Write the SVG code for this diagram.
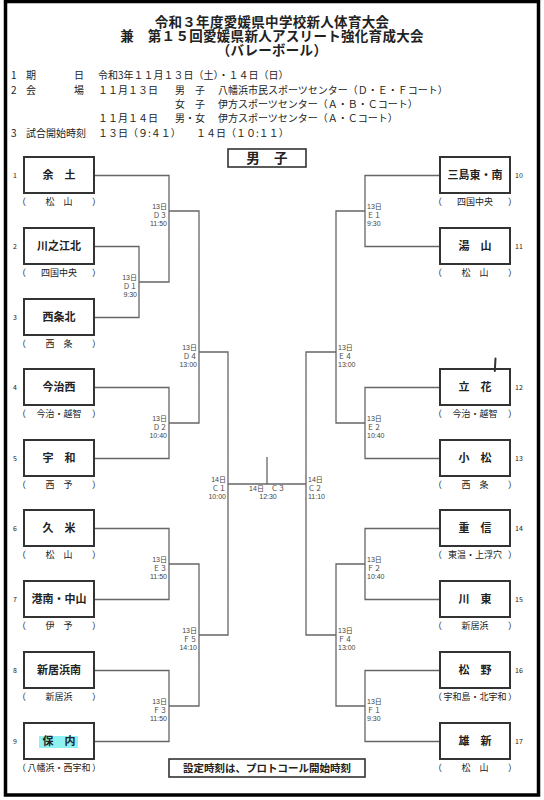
<svg xmlns="http://www.w3.org/2000/svg" width="544" height="800" viewBox="0 0 544 800">
<style>
text{font-family:"Noto Sans CJK JP","Liberation Sans",sans-serif;fill:#222}
.t{font-size:13.5px;font-weight:bold;text-anchor:middle;letter-spacing:0.3px}
.i{font-size:10px}
.box{fill:#fff;stroke:#333;stroke-width:2}
.nm{font-size:11px;font-weight:bold;text-anchor:middle}
.rg{font-size:9px;text-anchor:middle}
.pl{font-size:9px;text-anchor:start}
.pr{font-size:9px;text-anchor:end}
.no{font-size:7px;text-anchor:middle}
.nor{font-size:7px;text-anchor:start}
.lb{font-family:"Liberation Sans","Noto Sans CJK JP",sans-serif;font-size:7px;fill:#444}
.le{text-anchor:end}
.ls{text-anchor:start}
.lm{text-anchor:middle}
.cn{fill:none;stroke:#666;stroke-width:1.3}
</style>
<rect x="0" y="0" width="544" height="800" fill="#fff"/>
<rect x="5.5" y="1.5" width="533" height="793.5" fill="none" stroke="#000" stroke-width="3.5"/>
<g id="title">
<text class="t" x="272" y="26.5">令和３年度愛媛県中学校新人体育大会</text>
<text class="t" x="272" y="40.5">兼　第１５回愛媛県新人アスリート強化育成大会</text>
<text class="t" x="272" y="55">（バレーボール）</text>
</g>
<g id="info">
<text class="i" x="11" y="78.5">1</text><text class="i" x="26" y="78.5">期</text><text class="i" x="74" y="78.5">日</text><text class="i" x="98" y="78.5">令和3年１１月１３日（土）・１４日（日）</text>
<text class="i" x="11" y="93.5">2</text><text class="i" x="26" y="93.5">会</text><text class="i" x="74" y="93.5">場</text><text class="i" x="98" y="93.5">１１月１３日</text><text class="i" x="175" y="93.5">男　子</text><text class="i" x="218" y="93.5">八幡浜市民スポーツセンター（Ｄ・Ｅ・Ｆコート）</text>
<text class="i" x="175" y="107.5">女　子</text><text class="i" x="218" y="107.5">伊方スポーツセンター（Ａ・Ｂ・Ｃコート）</text>
<text class="i" x="98" y="121.5">１１月１４日</text><text class="i" x="175" y="121.5">男・女</text><text class="i" x="218" y="121.5">伊方スポーツセンター（Ａ・Ｃコート）</text>
<text class="i" x="11" y="136.5">3</text><text class="i" x="26" y="136.5">試合開始時刻</text><text class="i" x="98" y="136.5">１３日（９:４１）</text><text class="i" x="196" y="136.5">１４日（１０:１１）</text>
</g>
<g id="division">
<rect x="228" y="149" width="78" height="18" fill="#fff" stroke="#333" stroke-width="1.6"/>
<text class="t" x="267" y="163" style="font-size:13.5px">男　子</text>
</g>
<g id="connectors">
<path class="cn" d="M94 175.5H169V282H139M94 246.5H139V317.5H94M169 211H199V423H169M94 387.5H169V458.5H94M199 352H228V635H199M94 528.5H169V599.5H94M169 564H199V706H169M94 670.5H169V741.5H94M228 484H306M267 457V484"/>
<path class="cn" d="M440 175.5H365V246.5H440M365 211H336V423H365M440 387.5H365V458.5H440M336 352H306V635H336M440 528.5H365V599.5H440M365 564H336V706H365M440 670.5H365V741.5H440"/>
</g>
<g id="match-labels">
<text class="lb le" x="167" y="209">13日</text><text class="lb le" x="167" y="218">Ｄ３</text><text class="lb le" x="167" y="226.2">11:50</text>
<text class="lb le" x="137" y="280">13日</text><text class="lb le" x="137" y="289">Ｄ１</text><text class="lb le" x="137" y="297.2">9:30</text>
<text class="lb le" x="197" y="350">13日</text><text class="lb le" x="197" y="359">Ｄ４</text><text class="lb le" x="197" y="367.2">13:00</text>
<text class="lb le" x="167" y="421">13日</text><text class="lb le" x="167" y="430">Ｄ２</text><text class="lb le" x="167" y="438.2">10:40</text>
<text class="lb le" x="226" y="482">14日</text><text class="lb le" x="226" y="491">Ｃ１</text><text class="lb le" x="226" y="499.2">10:00</text>
<text class="lb le" x="167" y="562">13日</text><text class="lb le" x="167" y="571">Ｅ３</text><text class="lb le" x="167" y="579.2">11:50</text>
<text class="lb le" x="197" y="633">13日</text><text class="lb le" x="197" y="642">Ｆ５</text><text class="lb le" x="197" y="650.2">14:10</text>
<text class="lb le" x="167" y="704">13日</text><text class="lb le" x="167" y="713">Ｆ３</text><text class="lb le" x="167" y="721.2">11:50</text>
<text class="lb ls" x="367" y="209">13日</text><text class="lb ls" x="367" y="218">Ｅ１</text><text class="lb ls" x="367" y="226.2">9:30</text>
<text class="lb ls" x="338" y="350">13日</text><text class="lb ls" x="338" y="359">Ｅ４</text><text class="lb ls" x="338" y="367.2">13:00</text>
<text class="lb ls" x="367" y="421">13日</text><text class="lb ls" x="367" y="430">Ｅ２</text><text class="lb ls" x="367" y="438.2">10:40</text>
<text class="lb ls" x="308" y="482">14日</text><text class="lb ls" x="308" y="491">Ｃ２</text><text class="lb ls" x="308" y="499.2">11:10</text>
<text class="lb ls" x="367" y="562">13日</text><text class="lb ls" x="367" y="571">Ｆ２</text><text class="lb ls" x="367" y="579.2">10:40</text>
<text class="lb ls" x="338" y="633">13日</text><text class="lb ls" x="338" y="642">Ｆ４</text><text class="lb ls" x="338" y="650.2">13:00</text>
<text class="lb ls" x="367" y="704">13日</text><text class="lb ls" x="367" y="713">Ｆ１</text><text class="lb ls" x="367" y="721.2">9:30</text>
<text class="lb lm" x="267" y="491">14日　Ｃ３</text><text class="lb lm" x="268" y="499.2">12:30</text>
</g>
<g id="team1"><text class="no" x="15" y="177.5">1</text><rect class="box" x="24" y="157" width="70" height="36"/><text class="nm" x="59" y="179">余　土</text><text class="pl" x="17" y="205">（</text><text class="rg" x="59" y="205">松　山</text><text class="pr" x="101" y="205">）</text></g>
<g id="team2"><text class="no" x="15" y="248.5">2</text><rect class="box" x="24" y="228" width="70" height="36"/><text class="nm" x="59" y="250">川之江北</text><text class="pl" x="17" y="276">（</text><text class="rg" x="59" y="276">四国中央</text><text class="pr" x="101" y="276">）</text></g>
<g id="team3"><text class="no" x="15" y="319.5">3</text><rect class="box" x="24" y="299" width="70" height="36"/><text class="nm" x="59" y="321">西条北</text><text class="pl" x="17" y="347">（</text><text class="rg" x="59" y="347">西　条</text><text class="pr" x="101" y="347">）</text></g>
<g id="team4"><text class="no" x="15" y="389.5">4</text><rect class="box" x="24" y="369" width="70" height="36"/><text class="nm" x="59" y="391">今治西</text><text class="pl" x="17" y="417">（</text><text class="rg" x="59" y="417">今治・越智</text><text class="pr" x="101" y="417">）</text></g>
<g id="team5"><text class="no" x="15" y="460.5">5</text><rect class="box" x="24" y="440" width="70" height="36"/><text class="nm" x="59" y="462">宇　和</text><text class="pl" x="17" y="488">（</text><text class="rg" x="59" y="488">西　予</text><text class="pr" x="101" y="488">）</text></g>
<g id="team6"><text class="no" x="15" y="530.5">6</text><rect class="box" x="24" y="510" width="70" height="36"/><text class="nm" x="59" y="532">久　米</text><text class="pl" x="17" y="558">（</text><text class="rg" x="59" y="558">松　山</text><text class="pr" x="101" y="558">）</text></g>
<g id="team7"><text class="no" x="15" y="601.5">7</text><rect class="box" x="24" y="581" width="70" height="36"/><text class="nm" x="59" y="603">港南・中山</text><text class="pl" x="17" y="629">（</text><text class="rg" x="59" y="629">伊　予</text><text class="pr" x="101" y="629">）</text></g>
<g id="team8"><text class="no" x="15" y="672.5">8</text><rect class="box" x="24" y="652" width="70" height="36"/><text class="nm" x="59" y="674">新居浜南</text><text class="pl" x="17" y="700">（</text><text class="rg" x="59" y="700">新居浜</text><text class="pr" x="101" y="700">）</text></g>
<g id="team9"><text class="no" x="15" y="743.5">9</text><rect class="box" x="24" y="723" width="70" height="36"/><rect x="39" y="736" width="39" height="12" fill="#8ef3f0"/><text class="nm" x="59" y="745">保　内</text><text class="pl" x="17" y="771">（</text><text class="rg" x="59" y="771">八幡浜・西宇和</text><text class="pr" x="101" y="771">）</text></g>
<g id="team10"><rect class="box" x="440" y="157" width="70" height="36"/><text class="nm" x="475" y="179">三島東・南</text><text class="nor" x="515" y="177.5">10</text><text class="pl" x="433" y="205">（</text><text class="rg" x="475" y="205">四国中央</text><text class="pr" x="517" y="205">）</text></g>
<g id="team11"><rect class="box" x="440" y="228" width="70" height="36"/><text class="nm" x="475" y="250">湯　山</text><text class="nor" x="515" y="248.5">11</text><text class="pl" x="433" y="276">（</text><text class="rg" x="475" y="276">松　山</text><text class="pr" x="517" y="276">）</text></g>
<g id="team12"><rect class="box" x="440" y="369" width="70" height="36"/><text class="nm" x="475" y="391">立　花</text><text class="nor" x="515" y="389.5">12</text><text class="pl" x="433" y="417">（</text><text class="rg" x="475" y="417">今治・越智</text><text class="pr" x="517" y="417">）</text></g>
<g id="team13"><rect class="box" x="440" y="440" width="70" height="36"/><text class="nm" x="475" y="462">小　松</text><text class="nor" x="515" y="460.5">13</text><text class="pl" x="433" y="488">（</text><text class="rg" x="475" y="488">西　条</text><text class="pr" x="517" y="488">）</text></g>
<g id="team14"><rect class="box" x="440" y="510" width="70" height="36"/><text class="nm" x="475" y="532">重　信</text><text class="nor" x="515" y="530.5">14</text><text class="pl" x="433" y="558">（</text><text class="rg" x="475" y="558">東温・上浮穴</text><text class="pr" x="517" y="558">）</text></g>
<g id="team15"><rect class="box" x="440" y="581" width="70" height="36"/><text class="nm" x="475" y="603">川　東</text><text class="nor" x="515" y="601.5">15</text><text class="pl" x="433" y="629">（</text><text class="rg" x="475" y="629">新居浜</text><text class="pr" x="517" y="629">）</text></g>
<g id="team16"><rect class="box" x="440" y="652" width="70" height="36"/><text class="nm" x="475" y="674">松　野</text><text class="nor" x="515" y="672.5">16</text><text class="pl" x="433" y="700">（</text><text class="rg" x="475" y="700">宇和島・北宇和</text><text class="pr" x="517" y="700">）</text></g>
<g id="team17"><rect class="box" x="440" y="723" width="70" height="36"/><text class="nm" x="475" y="745">雄　新</text><text class="nor" x="515" y="743.5">17</text><text class="pl" x="433" y="771">（</text><text class="rg" x="475" y="771">松　山</text><text class="pr" x="517" y="771">）</text></g>
<g id="note">
<rect x="169" y="759" width="196" height="18" fill="#fff" stroke="#333" stroke-width="1.6"/>
<text x="267" y="771.8" style="font-size:10.5px;font-weight:bold;text-anchor:middle">設定時刻は、プロトコール開始時刻</text>
</g>
<path d="M495.5 358.5L494.8 371" stroke="#333" stroke-width="2" fill="none" stroke-linecap="round"/>
</svg>
